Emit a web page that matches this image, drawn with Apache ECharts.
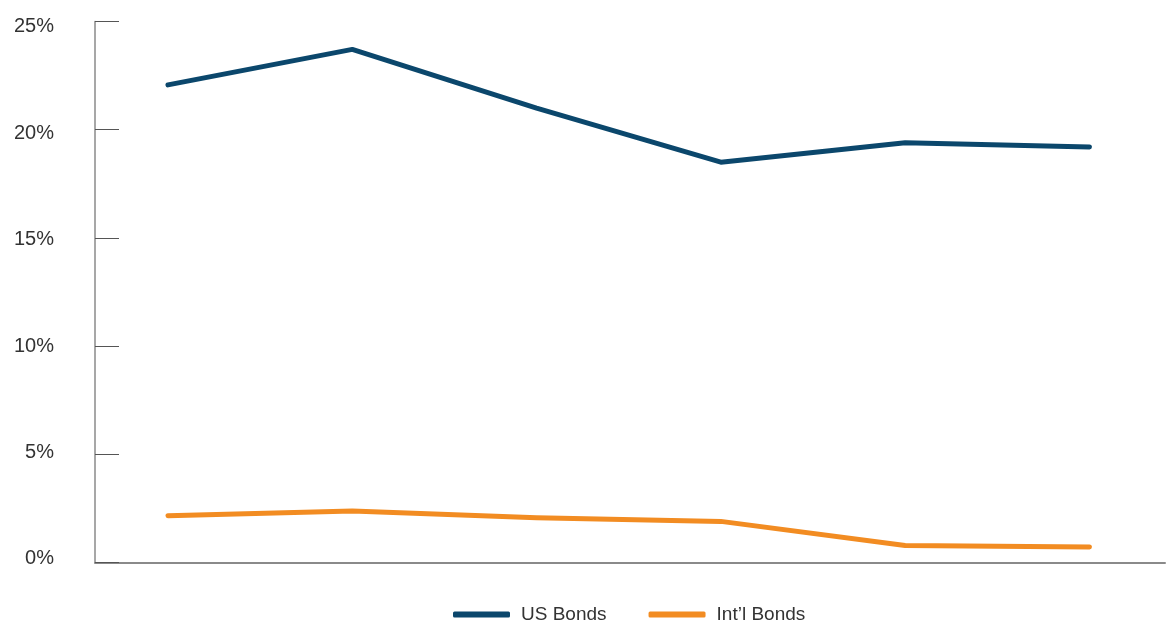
<!DOCTYPE html>
<html>
<head>
<meta charset="utf-8">
<script src="https://cdn.jsdelivr.net/npm/echarts@6/dist/echarts.min.js"></script>
<style>
html,body{margin:0;padding:0;background:#fff;}
#chart{width:1167px;height:622px;}
</style>
</head>
<body>
<div id="chart"></div>
<script>
var categories = ['P1','P2','P3','P4','P5','P6'];
var usBonds = [22.07, 23.71, 21.0, 18.5, 19.4, 19.2];
var intlBonds = [2.16, 2.38, 2.07, 1.9, 0.79, 0.72];
var seriesNames = ['US Bonds', 'Int\u2019l Bonds'];
var yTicks = [0, 5, 10, 15, 20, 25];

function toPairs(vals){ return vals.map(function(v,i){ return [i, v]; }); }

// small vertical nudges of tick labels (px, positive = down)
var labelShift = {0: -4, 5: -1.5, 10: 0, 15: 2, 20: 3.5, 25: 4.5};
var rich = {};
yTicks.forEach(function(t){
  var d = labelShift[t] || 0;
  rich['t' + t] = {
    fontSize: 20, color: '#333',
    fontFamily: '"Liberation Sans", Arial, sans-serif',
    padding: d >= 0 ? [2*d, 0, 0, 0] : [0, 0, -2*d, 0]
  };
});

var chart = echarts.init(document.getElementById('chart'));
chart.setOption({
  animation: false,
  backgroundColor: '#fff',
  textStyle: {fontFamily: '"Liberation Sans", Arial, sans-serif'},
  grid: {left: 95, right: 2, top: 21.5, bottom: 59.5, containLabel: false},
  legend: {
    top: 600,
    left: 448,
    icon: 'roundRect',
    itemWidth: 57,
    itemHeight: 6,
    itemGap: 42,
    textStyle: {fontSize: 19, color: '#333', padding: [0, 0, 0, 6], fontFamily: '"Liberation Sans", Arial, sans-serif'},
    data: seriesNames
  },
  xAxis: {
    type: 'value',
    min: -0.396,
    max: 5.41,
    axisLine: {show: true, onZero: false, lineStyle: {color: '#8a8a8a', width: 2}},
    axisTick: {show: false},
    axisLabel: {show: false},
    splitLine: {show: false}
  },
  yAxis: {
    type: 'value',
    min: yTicks[0],
    max: yTicks[yTicks.length-1],
    interval: 5,
    axisLine: {show: true, onZero: false, lineStyle: {color: '#8a8a8a', width: 1.5}},
    axisTick: {show: true, inside: true, length: 24, lineStyle: {color: '#555', width: 1}},
    axisLabel: {
      formatter: function(v){ return '{t' + v + '|' + v + '%}'; },
      rich: rich,
      margin: 41
    },
    splitLine: {show: false}
  },
  series: [
    {name: seriesNames[0], type: 'line', data: toPairs(usBonds), symbol: 'none',
     itemStyle: {color: '#0b476c'},
     lineStyle: {color: '#0b476c', width: 5, cap: 'round', join: 'round'}},
    {name: seriesNames[1], type: 'line', data: toPairs(intlBonds), symbol: 'none',
     itemStyle: {color: '#f28c22'},
     lineStyle: {color: '#f28c22', width: 5, cap: 'round', join: 'round'}}
  ]
});
</script>
</body>
</html>
